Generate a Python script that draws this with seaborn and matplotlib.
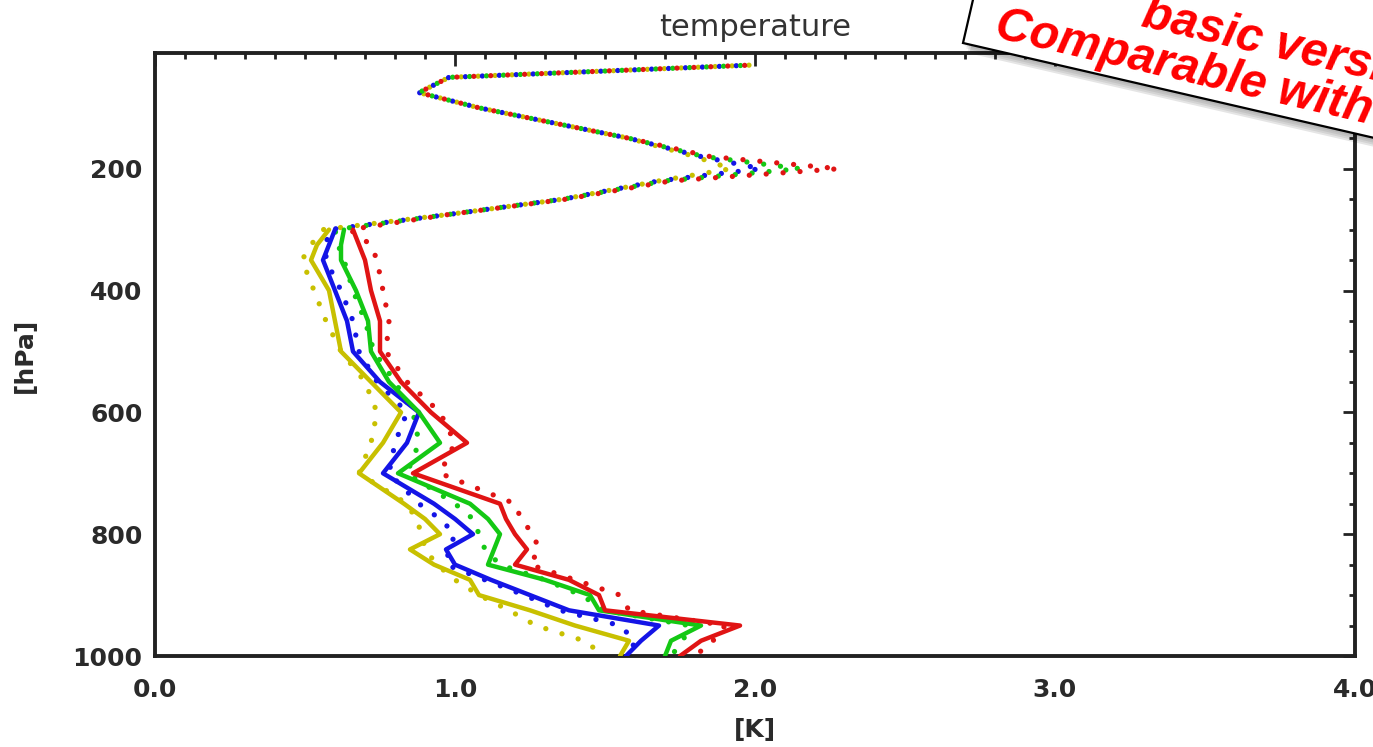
import numpy as np
import pandas as pd
import matplotlib
matplotlib.use("Agg")
import matplotlib.pyplot as plt
import seaborn as sns
from matplotlib.patches import Polygon
from matplotlib.ticker import MultipleLocator, FixedLocator, FormatStrFormatter

# ---------------- data ----------------
levels_dotted = [30, 50, 75, 100, 150, 180, 200, 220, 250, 275, 300, 325, 350, 400, 450, 500, 550,
                 600, 650, 700, 750, 775, 800, 825, 850, 875, 900, 925, 950, 975, 1000]
dotted_yellow = [1.98, 0.98, 0.88, 1.08, 1.58, 1.80, 1.92, 1.68, 1.36, 0.98, 0.56, 0.52, 0.49, 0.53, 0.57, 0.62, 0.70,
                 0.74, 0.72, 0.68, 0.84, 0.87, 0.89, 0.90, 0.94, 1.00, 1.08, 1.18, 1.27, 1.43, 1.50]
dotted_blue = [1.98, 0.98, 0.88, 1.08, 1.58, 1.82, 2.02, 1.68, 1.36, 0.98, 0.58, 0.57, 0.57, 0.62, 0.66, 0.68, 0.74,
               0.84, 0.80, 0.78, 0.88, 0.95, 1.00, 0.98, 0.97, 1.10, 1.23, 1.35, 1.55, 1.60, 1.58]
dotted_green = [1.98, 0.98, 0.88, 1.08, 1.58, 1.83, 2.15, 1.70, 1.36, 0.98, 0.60, 0.61, 0.63, 0.66, 0.70, 0.73, 0.80,
                0.86, 0.88, 0.84, 1.00, 1.06, 1.08, 1.10, 1.15, 1.30, 1.42, 1.50, 1.78, 1.76, 1.72]
dotted_red = [1.98, 0.98, 0.88, 1.08, 1.58, 1.85, 2.28, 1.72, 1.37, 0.98, 0.65, 0.72, 0.74, 0.76, 0.78, 0.77, 0.84,
              0.95, 1.00, 0.95, 1.20, 1.22, 1.26, 1.28, 1.25, 1.40, 1.55, 1.58, 1.90, 1.86, 1.80]

levels_solid = [300, 325, 350, 400, 450, 500, 550, 600, 650, 700, 750, 775, 800, 825,
                850, 875, 900, 925, 950, 975, 1000]
solid_yellow = [0.58, 0.54, 0.52, 0.58, 0.60, 0.62, 0.72, 0.82, 0.76, 0.68, 0.83, 0.90, 0.95, 0.85,
                0.93, 1.05, 1.08, 1.25, 1.40, 1.58, 1.55]
solid_blue = [0.60, 0.58, 0.56, 0.60, 0.64, 0.66, 0.75, 0.88, 0.84, 0.76, 0.93, 1.00, 1.06, 0.97,
              1.00, 1.12, 1.25, 1.38, 1.68, 1.62, 1.57]
solid_green = [0.63, 0.62, 0.62, 0.67, 0.71, 0.72, 0.78, 0.88, 0.95, 0.81, 1.05, 1.11, 1.15, 1.13,
               1.11, 1.30, 1.45, 1.48, 1.82, 1.72, 1.70]
solid_red = [0.66, 0.68, 0.70, 0.72, 0.75, 0.75, 0.82, 0.92, 1.04, 0.86, 1.15, 1.17, 1.20, 1.24,
             1.20, 1.38, 1.48, 1.50, 1.95, 1.82, 1.75]

series_names = ["yellow", "blue", "green", "red"]
series_colors = ["#c8c000", "#1414e6", "#14c814", "#e01414"]
x_ticks = [0.0, 1.0, 2.0, 3.0, 4.0]
y_ticks = [200, 400, 600, 800, 1000]
title_text = "temperature"
x_label = "[K]"
y_label = "[hPa]"
note_line1 = "basic version"
note_line2 = "Comparable with"

# ---------------- figure ----------------
W, H = 1373, 747
sns.set_theme(style="white")
plt.rcParams["font.family"] = ["DejaVu Sans"]
fig = plt.figure(figsize=(W / 100, H / 100), dpi=100)
ax = fig.add_axes([155 / W, (H - 656) / H, (1355 - 155) / W, (656 - 53) / H])

dotted = [dotted_yellow, dotted_blue, dotted_green, dotted_red]
solid = [solid_yellow, solid_blue, solid_green, solid_red]

for i, (vals, col) in enumerate(zip(dotted, series_colors)):
    sns.lineplot(x=vals, y=levels_dotted, sort=False, estimator=None, ax=ax,
                 color=col, lw=3.8, linestyle=(i * 0.8, (0.01, 3.2)),
                 dash_capstyle="round", zorder=2 + i * 0.1)

for i, (vals, col) in enumerate(zip(solid, series_colors)):
    sns.lineplot(x=vals, y=levels_solid, sort=False, estimator=None, ax=ax,
                 color=col, lw=3.2, zorder=3 + i * 0.1)

ax.set_xlim(0, 4)
ax.set_ylim(1000, 10)

ax.xaxis.set_major_locator(FixedLocator(x_ticks))
ax.xaxis.set_minor_locator(MultipleLocator(0.1))
ax.xaxis.set_major_formatter(FormatStrFormatter("%.1f"))
ax.yaxis.set_major_locator(FixedLocator(y_ticks))
ax.yaxis.set_minor_locator(MultipleLocator(50))

ax.tick_params(which="both", direction="in", top=True, right=True,
               color="#222222", width=2.0)
ax.tick_params(which="major", length=9)
ax.tick_params(which="minor", length=4.5)
ax.tick_params(axis="x", which="major", pad=16, labelsize=18, labelcolor="#2a2a2a")
ax.tick_params(axis="y", which="major", pad=9, labelsize=18, labelcolor="#2a2a2a")
for lab in ax.get_xticklabels() + ax.get_yticklabels():
    lab.set_fontweight("bold")

for sp in ax.spines.values():
    sp.set_visible(True)
    sp.set_color("#222222")
    sp.set_linewidth(2.8)

ax.set_xlabel(x_label, fontsize=18, fontweight="bold", color="#2a2a2a")
ax.xaxis.set_label_coords(0.5, (656 - 730) / 603, transform=ax.transAxes)
ax.xaxis.label.set_va("center")
ax.set_ylabel(y_label, fontsize=18, fontweight="bold", color="#2a2a2a")
ax.yaxis.set_label_coords((25 - 155) / 1200, (656 - 355) / 603, transform=ax.transAxes)
ax.yaxis.label.set_va("center")
ax.set_title(title_text, fontsize=22, color="#333333", pad=12)
ax.grid(False)

# ---------------- rotated note box (top right) ----------------
def fpt(x, y):
    return (x / W, (H - y) / H)

ang = np.deg2rad(13.0)
u = np.array([np.cos(ang), np.sin(ang)])       # along text (image coords, y down)
n = np.array([np.sin(ang), -np.cos(ang)])      # up, perpendicular
BL = np.array([963.0, 43.0])
BR = BL + 900 * u
TL = BL + 260 * n
TR = TL + 900 * u
corners = [BL, BR, TR, TL]

for k, a in enumerate([0.06, 0.07, 0.08, 0.10]):
    off = np.array([2 + 2 * k, 4 + 3 * k]) * 0.8
    sh = Polygon([fpt(*(c + off)) for c in corners], closed=True,
                 transform=fig.transFigure, facecolor="black", edgecolor="none",
                 alpha=a, zorder=10)
    fig.patches.append(sh)

box = Polygon([fpt(*c) for c in corners], closed=True, transform=fig.transFigure,
              facecolor="white", edgecolor="black", lw=1.6, zorder=11)
fig.patches.append(box)

A2 = np.array([993.0, 37.0])
A1 = A2 + 141 * u + 44 * n
for txt, anchor in [(note_line2, A2), (note_line1, A1)]:
    fig.text(*fpt(*anchor), txt, rotation=-13, rotation_mode="anchor",
             ha="left", va="baseline", color="#ff0000", fontsize=34.5,
             fontweight="bold", fontstyle="italic", family=["Liberation Sans", "DejaVu Sans"],
             zorder=12)

fig.savefig("out.png", dpi=100)
